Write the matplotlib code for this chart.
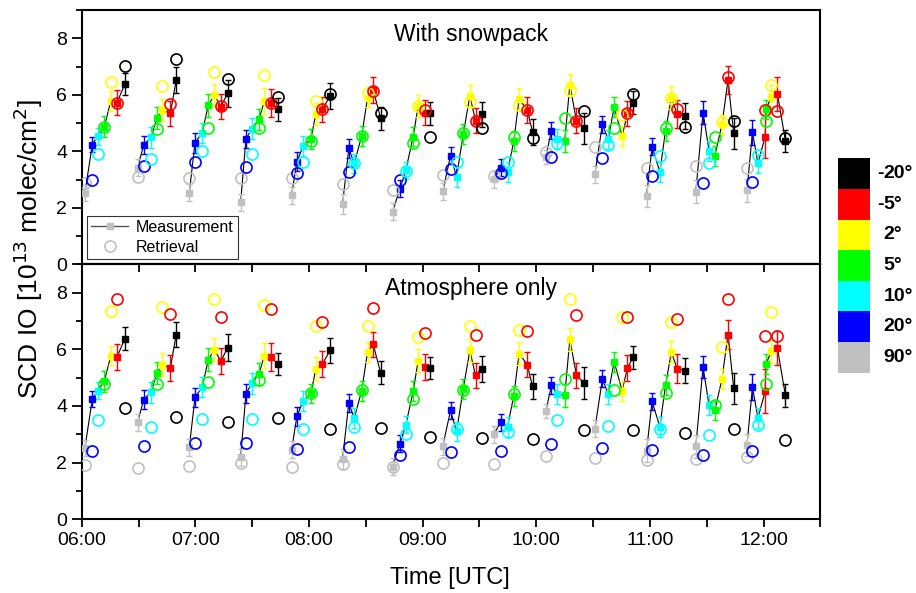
"""
SCD of IO over the morning: MAX-DOAS scans vs. model retrieval,
once with snowpack and once with atmosphere only.
"""

import matplotlib.pyplot as plt
from matplotlib.lines import Line2D
from matplotlib.ticker import MultipleLocator, FuncFormatter, NullFormatter

plt.rcParams['font.family'] = ['Liberation Sans', 'DejaVu Sans']

ELEV_COLORS = {
    90: "#c0c0c0",
    20: "#0000ff",
    10: "#00ffff",
    5: "#00ff00",
    2: "#ffff00",
    -5: "#ff0000",
    -20: "#000000",
}
LEGEND_ELEVS = [90, 20, 10, 5, 2, -5, -20]

# one scan = 90, 20, 10, 5, 2, -5, -20 deg; the last scan has an extra -5
SCAN = [90, 20, 10, 5, 2, -5, -20]
meas_elev = SCAN * 13 + [90, 20, 10, -5, 5, 2, -5, -20]

# minutes after 06:00 UTC
meas_time = [
    1.7, 5.6, 8.4, 11.9, 15.4, 18.6, 22.8,
    29.5, 32.7, 36.6, 39.7, 42.5, 46.8, 49.9,
    56.8, 59.8, 63.6, 66.8, 70.0, 73.5, 77.0,
    83.9, 86.7, 89.8, 93.6, 96.4, 99.9, 103.7,
    110.8, 113.6, 116.9, 121.0, 123.6, 127.0, 131.2,
    137.7, 141.0, 143.9, 147.8, 150.9, 153.9, 157.8,
    164.1, 168.0, 171.1, 175.0, 177.6, 181.2, 183.8,
    190.6, 194.7, 197.9, 201.4, 204.9, 207.9, 211.1,
    217.7, 221.1, 224.8, 228.1, 230.9, 235.2, 238.0,
    245.0, 248.0, 251.0, 255.0, 257.7, 261.2, 265.2,
    270.9, 274.9, 277.9, 281.1, 285.3, 288.1, 291.1,
    298.2, 301.1, 305.2, 308.2, 311.3, 314.3, 318.4,
    324.2, 328.0, 331.2, 334.2, 338.0, 341.2, 344.2,
    351.2, 354.1, 357.0, 360.8, 361.2, 364.1, 367.3, 371.5,
]

# measured SCD IO [1e13 molec/cm2] and its error
meas_scd = [
    2.53, 4.24, 4.54, 4.87, 5.78, 5.72, 6.38,
    3.42, 4.22, 4.49, 5.17, 5.46, 5.34, 6.52,
    2.54, 4.30, 4.66, 5.63, 5.99, 5.58, 6.05,
    2.19, 4.43, 4.80, 5.13, 5.78, 5.72, 5.48,
    2.45, 3.63, 4.18, 4.44, 5.32, 5.48, 5.96,
    2.13, 4.10, 3.57, 4.54, 5.90, 6.17, 5.17,
    1.86, 2.67, 3.33, 4.52, 5.60, 5.37, 5.34,
    2.58, 3.84, 3.10, 4.60, 5.96, 5.08, 5.31,
    3.01, 3.42, 3.27, 4.36, 5.85, 5.46, 4.69,
    3.81, 4.73, 4.43, 4.37, 6.35, 5.08, 4.81,
    3.19, 4.96, 4.42, 5.56, 4.54, 5.34, 5.72,
    2.42, 4.16, 3.27, 4.73, 5.90, 5.32, 5.25,
    2.57, 5.37, 4.02, 3.84, 4.95, 6.52, 4.63,
    2.62, 4.67, 3.57, 4.52, 5.48, 5.93, 6.03, 4.37,
]
meas_err = [
    0.28, 0.28, 0.30, 0.38, 0.35, 0.45, 0.40,
    0.30, 0.33, 0.37, 0.38, 0.40, 0.45, 0.45,
    0.30, 0.35, 0.35, 0.40, 0.40, 0.45, 0.48,
    0.30, 0.33, 0.38, 0.38, 0.45, 0.50, 0.40,
    0.30, 0.33, 0.35, 0.35, 0.40, 0.45, 0.45,
    0.35, 0.33, 0.35, 0.35, 0.35, 0.45, 0.40,
    0.30, 0.30, 0.30, 0.35, 0.40, 0.45, 0.40,
    0.30, 0.30, 0.35, 0.35, 0.40, 0.45, 0.45,
    0.30, 0.30, 0.35, 0.35, 0.40, 0.45, 0.45,
    0.25, 0.30, 0.35, 0.40, 0.40, 0.45, 0.55,
    0.30, 0.30, 0.35, 0.35, 0.35, 0.45, 0.40,
    0.40, 0.30, 0.35, 0.35, 0.40, 0.50, 0.45,
    0.40, 0.40, 0.35, 0.35, 0.35, 0.50, 0.55,
    0.40, 0.45, 0.35, 0.77, 0.35, 0.40, 0.60, 0.40,
]

# retrieved SCD, model run with snowpack
ret_snow = [
    2.88, 2.98, 3.90, 4.85, 6.44, 5.72, 7.03,
    3.10, 3.48, 3.71, 4.80, 6.31, 5.67, 7.26,
    3.06, 3.63, 4.00, 4.82, 6.80, 5.60, 6.57,
    3.06, 3.43, 3.91, 4.83, 6.69, 5.72, 5.91,
    3.07, 3.24, 3.63, 4.36, 5.77, 5.48, 6.02,
    2.83, 3.25, 3.57, 4.54, 6.08, 6.15, 5.34,
    2.62, 2.98, 3.30, 4.28, 5.60, 5.46, 4.49,
    3.17, 3.36, 3.63, 4.63, 5.76, 5.08, 4.81,
    3.13, 3.24, 3.63, 4.52, 5.64, 5.46, 4.46,
    3.98, 3.81, 4.28, 5.17, 6.17, 5.08, 5.43,
    4.16, 3.75, 4.24, 4.83, 5.28, 5.34, 6.01,
    3.42, 3.13, 3.83, 4.81, 5.90, 5.48, 4.87,
    3.48, 2.86, 3.59, 4.49, 5.05, 6.62, 5.08,
    3.42, 2.90, 3.87, 5.46, 5.08, 6.35, 5.43, 4.48,
]

# retrieved SCD, atmosphere only
ret_atm = [
    1.91, 2.42, 3.51, 4.79, 7.36, 7.78, 3.92,
    1.81, 2.59, 3.25, 4.79, 7.51, 7.26, 3.61,
    1.89, 2.70, 3.55, 4.85, 7.78, 7.14, 3.45,
    1.99, 2.70, 3.54, 4.91, 7.57, 7.42, 3.57,
    1.86, 2.48, 3.19, 4.46, 6.82, 6.97, 3.19,
    1.95, 2.54, 3.25, 4.55, 6.82, 7.45, 3.23,
    1.86, 2.28, 3.01, 4.26, 6.44, 6.56, 2.90,
    1.97, 2.39, 3.19, 4.55, 6.82, 6.50, 2.87,
    1.95, 2.40, 3.07, 4.43, 6.68, 6.64, 2.84,
    2.25, 2.66, 3.51, 4.94, 7.77, 7.21, 3.16,
    2.15, 2.52, 3.29, 4.57, 7.15, 7.15, 3.14,
    2.09, 2.45, 3.19, 4.47, 6.97, 7.07, 3.05,
    2.13, 2.27, 2.96, 4.04, 6.09, 7.78, 3.17,
    2.21, 2.40, 3.33, 6.48, 4.76, 7.33, 6.48, 2.80,
]


def hhmm(m, pos=None):
    m = int(round(m))
    return f"{6 + m // 60:02d}:{m % 60:02d}"


def draw_panel(ax, retrieval, title):
    # connect the points of each scan (a scan starts at 90 deg)
    starts = [i for i, e in enumerate(meas_elev) if e == 90] + [len(meas_elev)]
    for a, b in zip(starts[:-1], starts[1:]):
        ax.plot(meas_time[a:b], meas_scd[a:b], color="black", lw=0.8, zorder=2)

    for t, v, err, e, r in zip(meas_time, meas_scd, meas_err, meas_elev, retrieval):
        c = ELEV_COLORS[e]
        ax.errorbar(t, v, yerr=err, fmt="s", color=c, ms=4.8, capsize=2.5,
                    elinewidth=1, capthick=1, zorder=3)
        ax.plot(t, r, "o", mfc="none", mec=c, ms=8, mew=1.2, zorder=4)

    ax.set_xlim(0, 390)
    ax.set_ylim(0, 9)
    ax.yaxis.set_major_locator(MultipleLocator(2))
    ax.yaxis.set_minor_locator(MultipleLocator(1))
    ax.xaxis.set_major_locator(MultipleLocator(60))
    ax.xaxis.set_minor_locator(MultipleLocator(30))
    ax.xaxis.set_major_formatter(FuncFormatter(hhmm))
    ax.tick_params(axis="y", which="major", direction="out", length=7, width=1.3,
                   labelsize=14, right=False)
    ax.tick_params(axis="y", which="minor", direction="out", length=4, width=1.3, right=False)
    for sp in ax.spines.values():
        sp.set_linewidth(1.5)
    ax.text(0.527, 0.905, title, transform=ax.transAxes, ha="center", va="center",
            fontsize=16.5)


fig = plt.figure(figsize=(9.16, 5.93), dpi=100)
ax_top = fig.add_axes([0.0892, 0.5543, 0.8065, 0.4288])
ax_bot = fig.add_axes([0.0892, 0.1243, 0.8065, 0.4300])

draw_panel(ax_top, ret_snow, "With snowpack")
draw_panel(ax_bot, ret_atm, "Atmosphere only")

ax_top.tick_params(axis="x", which="both", bottom=False, top=False, labelbottom=False)
ax_bot.tick_params(axis="x", which="both", bottom=True, top=False, direction="out",
                   length=6, width=1.3, labelsize=14)

# inward ticks along the top of the lower panel
sec = ax_bot.secondary_xaxis("top")
sec.xaxis.set_major_locator(MultipleLocator(30))
sec.xaxis.set_major_formatter(NullFormatter())
sec.tick_params(axis="x", direction="in", length=6, width=1.3)
sec.spines["top"].set_linewidth(1.5)

handles = [
    Line2D([], [], color="#555555", lw=1, marker="s", mfc="#c0c0c0", mec="#c0c0c0", ms=5),
    Line2D([], [], ls="none", marker="o", mfc="none", mec="#c0c0c0", ms=8, mew=1.2),
]
leg = ax_top.legend(handles, ["Measurement", "Retrieval"], loc="lower left",
                    fontsize=11.5, frameon=True, fancybox=False, edgecolor="black",
                    borderaxespad=0.35, handlelength=2.3, handletextpad=0.5,
                    borderpad=0.25, labelspacing=0.3)
leg.get_frame().set_linewidth(0.8)

fig.text(0.031, 0.58, r"SCD IO [10$^{13}$ molec/cm$^{2}$]", rotation=90,
         ha="center", va="center", fontsize=19)
fig.text(0.491, 0.025, "Time [UTC]", ha="center", va="center", fontsize=17)

# elevation angle key
cax = fig.add_axes([0.9145, 0.3715, 0.0353, 0.3615])
for i, e in enumerate(LEGEND_ELEVS):
    cax.bar(0, 1, bottom=i, width=1, color=ELEV_COLORS[e])
    num = str(abs(e)) + "\u00b0"
    cax.text(1.42, i + 0.5, num, ha="left", va="center", fontsize=14, fontweight="bold",
             transform=cax.get_yaxis_transform())
    if e < 0:
        cax.text(1.42, i + 0.5, "-", ha="right", va="center", fontsize=14,
                 fontweight="bold", transform=cax.get_yaxis_transform())
cax.set_xlim(-0.5, 0.5)
cax.set_ylim(0, len(LEGEND_ELEVS))
cax.axis("off")

fig.savefig("out.png", dpi=100)
